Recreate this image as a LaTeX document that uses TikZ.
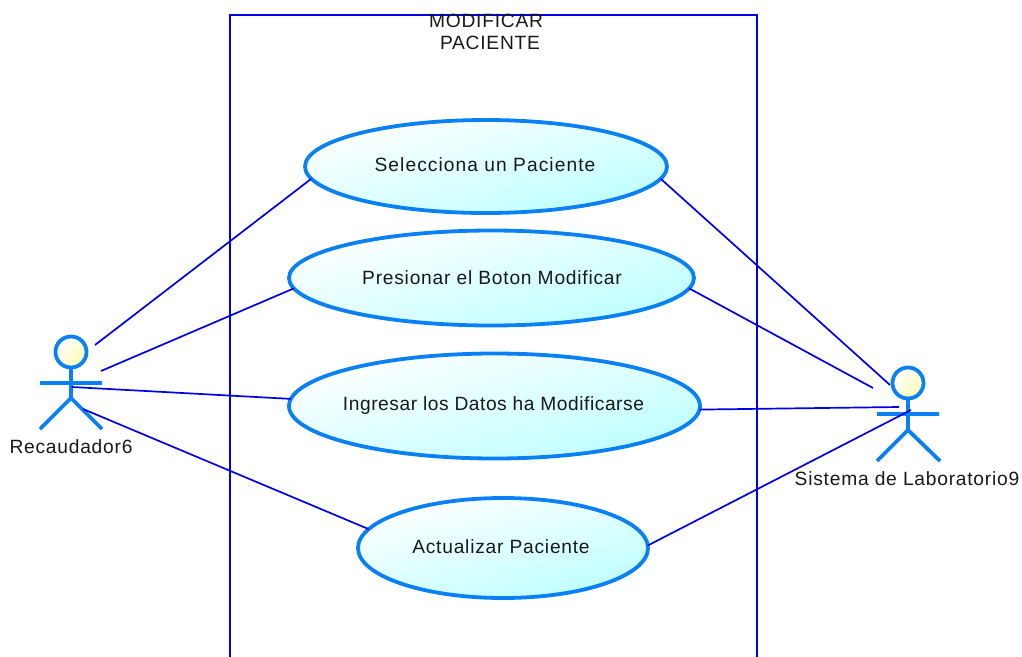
\documentclass[tikz,border=0pt]{standalone}
\usepackage{fontspec}
\setmainfont{Liberation Sans}[LetterSpace=4]
\usetikzlibrary{shapes.geometric}
\definecolor{usecaseline}{HTML}{0A80F5}
\definecolor{connblue}{HTML}{0000E6}
\definecolor{frameblue}{HTML}{0000E6}
\tikzset{
  x=1pt,y=-1pt,
  txt/.style={font=\fontsize{19.2}{22}\selectfont,text=black!90,inner sep=0pt,outer sep=0pt},
  usecase/.style={ellipse,draw=usecaseline,line width=3.8pt,inner sep=0pt,outer sep=0pt,
    top color=white,bottom color=cyan!26,shading angle=15},
  conn/.style={draw=connblue,line width=1.7pt},
  actorhead/.style={circle,draw=usecaseline,line width=3.8pt,inner sep=0pt,outer sep=0pt,minimum size=31pt,
    top color=white,bottom color=yellow!30,shading angle=45},
  actorline/.style={draw=usecaseline,line width=3.8pt},
  frame/.style={draw=frameblue,line width=1.6pt},
}
\begin{document}
\begin{tikzpicture}
\useasboundingbox (0,0) rectangle (1022,656);
\fill[white] (0,0) rectangle (1022,656);
% system boundary (runs off the bottom of the picture)
\draw[frame] (230,660) -- (230,15) -- (757,15) -- (757,660);
\node[txt] (title1) at (486,21) {MODIFICAR};
\node[txt] (title2) at (490,43) {PACIENTE};
% use cases
\node[usecase,minimum width=362pt,minimum height=93pt] (e1) at (486,166.5) {};
\node[usecase,minimum width=405pt,minimum height=95pt] (e2) at (491.5,278) {};
\node[usecase,minimum width=411pt,minimum height=105pt] (e3) at (494.5,406) {};
\node[usecase,minimum width=290pt,minimum height=100pt] (e4) at (503,548) {};
\node[txt] (t1) at (485,165) {\addfontfeatures{LetterSpace=5.5}Selecciona un Paciente};
\node[txt] (t2) at (492,278) {Presionar el Boton Modificar};
\node[txt] (t3) at (493.5,406) {\addfontfeatures{LetterSpace=2.8}Ingresar los Datos ha Modificarse};
\node[txt] (t4) at (501,547) {Actualizar Paciente};
% left actor
\node[actorhead] (h1) at (71,352) {};
\coordinate (a1hip) at (71,398);
\coordinate (a1la) at (40,383);
\coordinate (a1ra) at (102,383);
\coordinate (a1ll) at (40,429);
\coordinate (a1rl) at (102,429);
\draw[actorline] (h1) -- (a1hip) (a1la) -- (a1ra) (a1ll) -- (a1hip) -- (a1rl);
\node[txt] (l1) at (71,447) {Recaudador6};
% right actor
\node[actorhead] (h2) at (908,383) {};
\coordinate (a2hip) at (908,430);
\coordinate (a2la) at (877,414);
\coordinate (a2ra) at (939,414);
\coordinate (a2ll) at (877,461);
\coordinate (a2rl) at (940,461);
\draw[actorline] (h2) -- (a2hip) (a2la) -- (a2ra) (a2ll) -- (a2hip) -- (a2rl);
\node[txt] (l2) at (907,479) {Sistema de Laboratorio9};
% connector ends at the actors
\coordinate (p1) at (95,345);
\coordinate (p2) at (101,371);
\coordinate (p3) at (72,387);
\coordinate (p4) at (83,409);
\coordinate (q1) at (890,385);
\coordinate (q2) at (873,388);
\coordinate (q3) at (899,407);
\coordinate (q4) at (911,410);
% connectors
\draw[conn] (p1) -- (e1.184.4);
\draw[conn] (p2) -- (e2.183.2);
\draw[conn] (p3) -- (e3.178);
\draw[conn] (p4) -- (e4.172.6);
\draw[conn] (e1.-4.4) -- (q1);
\draw[conn] (e2.-3.5) -- (q2);
\draw[conn] (e3.-1.2) -- (q3);
\draw[conn] (e4.1.2) -- (q4);
\end{tikzpicture}
\end{document}
